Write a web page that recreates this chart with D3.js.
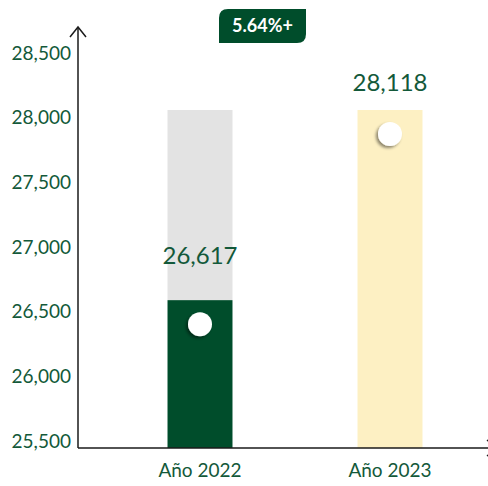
<!DOCTYPE html>
<html><head><meta charset="utf-8">
<script src="https://cdn.jsdelivr.net/npm/d3@7"></script>
<style>body{margin:0;background:#fff}svg{display:block}</style>
</head><body>
<svg id="c" width="488" height="486"></svg>
<script>
const categories = ["Año 2022", "Año 2023"];
const values = [26617, 28118];
const yTicks = [25500, 26000, 26500, 27000, 27500, 28000, 28500];
const changeLabel = "5.64%+";

const svg = d3.select("#c");
const font = "Lato, 'Noto Sans', sans-serif";
const green = "#004d2b", textGreen = "#13593a";
const barColors = ["#004d2b", "#fdf0c3"];

const defs = svg.append("defs");
const f = defs.append("filter").attr("id","sh").attr("x","-50%").attr("y","-50%").attr("width","200%").attr("height","200%");
f.append("feDropShadow").attr("dx",-2).attr("dy",2).attr("stdDeviation",1.6).attr("flood-color","#000").attr("flood-opacity",0.45);

// scales
const yAxisScale = d3.scaleLinear().domain([25500, 28500]).range([441, 53]);
const yBar = d3.scaleLinear().domain([25450, d3.max(values)]).range([448, 110]);
const x = d3.scaleBand().domain(categories).range([105, 485]).paddingInner(0.658).paddingOuter(0.329);

// background bar (2022 up to max)
svg.append("rect").attr("x", x(categories[0])).attr("width", x.bandwidth())
  .attr("y", yBar(d3.max(values))).attr("height", yBar(values[0]) - yBar(d3.max(values)))
  .attr("fill", "#e3e3e3");

svg.selectAll("rect.bar").data(values).join("rect").attr("class","bar")
  .attr("x", (d,i) => x(categories[i])).attr("width", x.bandwidth())
  .attr("y", d => yBar(d)).attr("height", d => yBar.range()[0] - yBar(d))
  .attr("fill", (d,i) => barColors[i]);

// circles
svg.selectAll("circle.dot").data(values).join("circle").attr("class","dot")
  .attr("cx", (d,i) => x(categories[i]) + x.bandwidth()/2)
  .attr("cy", d => yBar(d) + 24).attr("r", 12)
  .attr("fill", "#fff").attr("filter", "url(#sh)");

// value labels
svg.selectAll("text.val").data(values).join("text").attr("class","val")
  .attr("x", (d,i) => x(categories[i]) + x.bandwidth()/2)
  .attr("y", (d,i) => i === 0 ? yBar(d) - 36 : yBar(d) - 19)
  .attr("text-anchor","middle").attr("font-family", font).attr("font-size", 24)
  .attr("fill", textGreen).text(d => d3.format(",")(d));

// y axis tick labels
const ya = svg.append("g").attr("transform","translate(78,0)")
  .call(d3.axisLeft(yAxisScale).tickValues(yTicks).tickFormat(d3.format(",")).tickSize(0).tickPadding(7));
ya.select(".domain").remove();
ya.selectAll("text").attr("font-family", font).attr("font-size", 19).attr("fill", textGreen);

// x axis labels
const xa = svg.append("g").attr("transform","translate(0,448)")
  .call(d3.axisBottom(x).tickSize(0).tickPadding(16));
xa.select(".domain").remove();
xa.selectAll("text").attr("font-family", font).attr("font-size", 19).attr("fill", textGreen);

// axis lines with arrows
const ax = svg.append("g").attr("stroke","#1a1a1a").attr("stroke-width",1.5).attr("fill","none");
ax.append("path").attr("d","M78,448 V27");
ax.append("path").attr("d","M70,37 L78,27 L86,37");
ax.append("path").attr("d","M78,448 H497");
ax.append("path").attr("d","M487,440 L497,448 L487,456");

// badge
const bx = 219, by = 9, bw = 87, bh = 34, r = 9;
svg.append("path").attr("fill", green)
  .attr("d", `M${bx+r},${by} H${bx+bw} V${by+bh-r} Q${bx+bw},${by+bh} ${bx+bw-r},${by+bh} H${bx} V${by+r} Q${bx},${by} ${bx+r},${by} Z`);
svg.append("text").attr("x", bx + bw/2).attr("y", by + bh/2 + 6)
  .attr("text-anchor","middle").attr("font-family", font).attr("font-weight","bold")
  .attr("font-size", 18).attr("fill","#fff").text(changeLabel);
</script>
</body></html>
